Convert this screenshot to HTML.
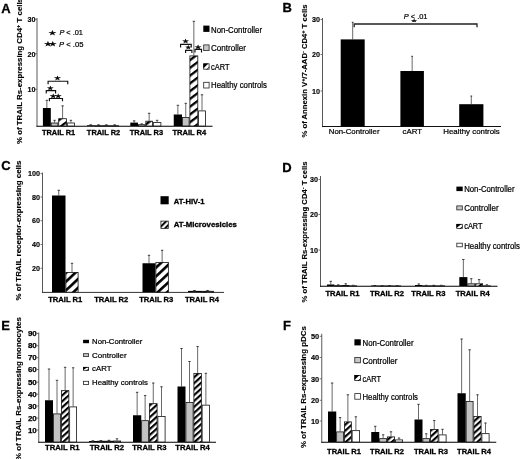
<!DOCTYPE html>
<html lang="en"><head><meta charset="utf-8"><title>Figure</title>
<style>html,body{margin:0;padding:0;background:#fff;}svg{display:block;filter:blur(0.3px);}text{font-family:'Liberation Sans', Arial, Helvetica, sans-serif;fill:#000;stroke:#000;stroke-width:0.22px;}text[font-weight=bold]{stroke-width:0.3px;}text.t{stroke-width:0.14px;}</style>
</head><body>
<svg width="520" height="459" viewBox="0 0 520 459">
<defs>
<pattern id="h1" patternUnits="userSpaceOnUse" width="20" height="6.2" patternTransform="rotate(-37)"><rect x="0" y="0" width="20" height="6.2" fill="#fff"/><rect x="0" y="0" width="20" height="2.3" fill="#000"/></pattern>
<pattern id="h3" patternUnits="userSpaceOnUse" width="20" height="6.4" patternTransform="rotate(-43)"><rect x="0" y="0" width="20" height="6.4" fill="#fff"/><rect x="0" y="0" width="20" height="2.6" fill="#000"/></pattern>
<pattern id="h2" patternUnits="userSpaceOnUse" width="20" height="4.4" patternTransform="rotate(-42)"><rect x="0" y="0" width="20" height="4.4" fill="#fff"/><rect x="0" y="0" width="20" height="2.15" fill="#000"/></pattern>
<pattern id="hl" patternUnits="userSpaceOnUse" width="20" height="4.2" patternTransform="rotate(-45)"><rect x="0" y="0" width="20" height="4.2" fill="#fff"/><rect x="0" y="0" width="20" height="2.0" fill="#000"/></pattern>
</defs>
<rect width="520" height="459" fill="#fff"/>
<text x="1.2" y="12.8" font-size="13" font-weight="bold">A</text>
<text x="22.4" y="71" font-size="7.8" font-weight="bold" text-anchor="middle" textLength="146" lengthAdjust="spacingAndGlyphs" transform="rotate(-90 22.4 71)" class="t">% of TRAIL Rs-expressing CD4<tspan font-size="5.5" dy="-2">+</tspan><tspan dy="2"> T cells</tspan></text>
<line x1="37" y1="18" x2="37" y2="126.8" stroke="#505050" stroke-width="0.95"/>
<line x1="36.5" y1="126.2" x2="212.5" y2="126.2" stroke="#000" stroke-width="1.1"/>
<text x="35.5" y="22" font-size="7.2" font-weight="bold" text-anchor="end" class="t">30</text>
<line x1="35.0" y1="19.3" x2="37" y2="19.3" stroke="#555" stroke-width="0.8"/>
<text x="35.5" y="56.5" font-size="7.2" font-weight="bold" text-anchor="end" class="t">20</text>
<line x1="35.0" y1="53.8" x2="37" y2="53.8" stroke="#555" stroke-width="0.8"/>
<text x="35.5" y="92" font-size="7.2" font-weight="bold" text-anchor="end" class="t">10</text>
<line x1="35.0" y1="89.3" x2="37" y2="89.3" stroke="#555" stroke-width="0.8"/>
<line x1="46.849999999999994" y1="108" x2="46.849999999999994" y2="100" stroke="#444" stroke-width="0.8"/>
<line x1="45.64999999999999" y1="100.3" x2="48.05" y2="100.3" stroke="#333" stroke-width="0.9"/>
<rect x="42.9" y="108" width="7.899999999999999" height="18" fill="#000"/>
<line x1="54.55" y1="122.6" x2="54.55" y2="120" stroke="#444" stroke-width="0.8"/>
<line x1="53.349999999999994" y1="120.3" x2="55.75" y2="120.3" stroke="#333" stroke-width="0.9"/>
<rect x="51.199999999999996" y="123.0" width="6.7" height="3.0000000000000058" fill="#c2c2c2" stroke="#111" stroke-width="0.8"/>
<line x1="62.6" y1="118.3" x2="62.6" y2="105.6" stroke="#444" stroke-width="0.8"/>
<line x1="61.4" y1="105.89999999999999" x2="63.800000000000004" y2="105.89999999999999" stroke="#333" stroke-width="0.9"/>
<rect x="58.699999999999996" y="118.7" width="7.800000000000009" height="7.3000000000000025" fill="url(#h1)" stroke="#111" stroke-width="0.8"/>
<line x1="70.9" y1="122.6" x2="70.9" y2="120" stroke="#444" stroke-width="0.8"/>
<line x1="69.7" y1="120.3" x2="72.10000000000001" y2="120.3" stroke="#333" stroke-width="0.9"/>
<rect x="67.30000000000001" y="123.0" width="7.2" height="3.0000000000000058" fill="#fff" stroke="#111" stroke-width="0.8"/>
<line x1="91.0" y1="125.3" x2="91.0" y2="125" stroke="#444" stroke-width="0.8"/>
<line x1="89.8" y1="125.3" x2="92.2" y2="125.3" stroke="#333" stroke-width="0.9"/>
<rect x="87" y="125.3" width="8" height="0.7000000000000028" fill="#000"/>
<line x1="99.0" y1="125.3" x2="99.0" y2="125" stroke="#444" stroke-width="0.8"/>
<line x1="97.8" y1="125.3" x2="100.2" y2="125.3" stroke="#333" stroke-width="0.9"/>
<rect x="95.4" y="125.7" width="7.2" height="0.3000000000000028" fill="#c2c2c2" stroke="#111" stroke-width="0.8"/>
<line x1="107.0" y1="125.3" x2="107.0" y2="125" stroke="#444" stroke-width="0.8"/>
<line x1="105.8" y1="125.3" x2="108.2" y2="125.3" stroke="#333" stroke-width="0.9"/>
<rect x="103.4" y="125.7" width="7.2" height="0.3000000000000028" fill="url(#h1)" stroke="#111" stroke-width="0.8"/>
<line x1="115.0" y1="125.3" x2="115.0" y2="125" stroke="#444" stroke-width="0.8"/>
<line x1="113.8" y1="125.3" x2="116.2" y2="125.3" stroke="#333" stroke-width="0.9"/>
<rect x="111.4" y="125.7" width="7.2" height="0.3000000000000028" fill="#fff" stroke="#111" stroke-width="0.8"/>
<line x1="134.15" y1="122.6" x2="134.15" y2="120.6" stroke="#444" stroke-width="0.8"/>
<line x1="132.95000000000002" y1="120.89999999999999" x2="135.35" y2="120.89999999999999" stroke="#333" stroke-width="0.9"/>
<rect x="130.3" y="122.6" width="7.699999999999989" height="3.4000000000000057" fill="#000"/>
<line x1="141.7" y1="124.3" x2="141.7" y2="123.6" stroke="#444" stroke-width="0.8"/>
<line x1="140.5" y1="123.89999999999999" x2="142.89999999999998" y2="123.89999999999999" stroke="#333" stroke-width="0.9"/>
<rect x="138.4" y="124.7" width="6.600000000000006" height="1.300000000000003" fill="#c2c2c2" stroke="#111" stroke-width="0.8"/>
<line x1="149.15" y1="120.8" x2="149.15" y2="113" stroke="#444" stroke-width="0.8"/>
<line x1="147.95000000000002" y1="113.3" x2="150.35" y2="113.3" stroke="#333" stroke-width="0.9"/>
<rect x="145.8" y="121.2" width="6.7" height="4.8000000000000025" fill="url(#h1)" stroke="#111" stroke-width="0.8"/>
<line x1="157.10000000000002" y1="122.2" x2="157.10000000000002" y2="120" stroke="#444" stroke-width="0.8"/>
<line x1="155.90000000000003" y1="120.3" x2="158.3" y2="120.3" stroke="#333" stroke-width="0.9"/>
<rect x="153.3" y="122.60000000000001" width="7.600000000000006" height="3.3999999999999972" fill="#fff" stroke="#111" stroke-width="0.8"/>
<line x1="177.875" y1="114.5" x2="177.875" y2="105" stroke="#444" stroke-width="0.8"/>
<line x1="176.675" y1="105.3" x2="179.075" y2="105.3" stroke="#333" stroke-width="0.9"/>
<rect x="173.75" y="114.5" width="8.25" height="11.5" fill="#000"/>
<line x1="185.75" y1="117" x2="185.75" y2="103" stroke="#444" stroke-width="0.8"/>
<line x1="184.55" y1="103.3" x2="186.95" y2="103.3" stroke="#333" stroke-width="0.9"/>
<rect x="182.4" y="117.4" width="6.7" height="8.6" fill="#c2c2c2" stroke="#111" stroke-width="0.8"/>
<line x1="193.85" y1="55.5" x2="193.85" y2="21" stroke="#444" stroke-width="0.8"/>
<line x1="192.65" y1="21.3" x2="195.04999999999998" y2="21.3" stroke="#333" stroke-width="0.9"/>
<rect x="189.9" y="55.9" width="7.899999999999989" height="70.1" fill="url(#h1)" stroke="#111" stroke-width="0.8"/>
<line x1="202.0" y1="110.5" x2="202.0" y2="94.5" stroke="#444" stroke-width="0.8"/>
<line x1="200.8" y1="94.8" x2="203.2" y2="94.8" stroke="#333" stroke-width="0.9"/>
<rect x="198.6" y="110.9" width="6.800000000000023" height="15.1" fill="#fff" stroke="#111" stroke-width="0.8"/>
<rect x="89.4" y="124.4" width="2.4" height="1.1" fill="#2a2a2a"/>
<rect x="97.2" y="124.4" width="2.4" height="1.1" fill="#2a2a2a"/>
<rect x="105.0" y="124.4" width="2.4" height="1.1" fill="#2a2a2a"/>
<rect x="113.4" y="124.4" width="2.4" height="1.1" fill="#2a2a2a"/>
<text x="41.95" y="134.7" font-size="7.7" font-weight="bold" textLength="33.3" lengthAdjust="spacingAndGlyphs">TRAIL R1</text>
<text x="86.85" y="134.7" font-size="7.7" font-weight="bold" textLength="33.3" lengthAdjust="spacingAndGlyphs">TRAIL R2</text>
<text x="129.75" y="134.7" font-size="7.7" font-weight="bold" textLength="33.3" lengthAdjust="spacingAndGlyphs">TRAIL R3</text>
<text x="172.4" y="134.7" font-size="7.7" font-weight="bold" textLength="33.9" lengthAdjust="spacingAndGlyphs">TRAIL R4</text>
<text transform="translate(52.4 35.08) scale(1.38 1)" font-size="6.37" font-weight="bold" text-anchor="middle" style="font-family:DejaVu Sans,sans-serif">★</text>
<text x="59.4" y="35.3" font-size="8" textLength="23.6" lengthAdjust="spacingAndGlyphs"><tspan font-style="italic">P</tspan> &lt; .01</text>
<text transform="translate(47.9 45.88) scale(1.38 1)" font-size="6.37" font-weight="bold" text-anchor="middle" style="font-family:DejaVu Sans,sans-serif">★</text>
<text transform="translate(52.7 45.88) scale(1.38 1)" font-size="6.37" font-weight="bold" text-anchor="middle" style="font-family:DejaVu Sans,sans-serif">★</text>
<text x="59" y="46.9" font-size="8" textLength="24.5" lengthAdjust="spacingAndGlyphs"><tspan font-style="italic">P</tspan> &lt; .05</text>
<polyline points="48.1,84.25 48.1,81.25 67.75,81.25 67.75,84.25" fill="none" stroke="#111" stroke-width="1.15"/>
<text transform="translate(57.5 79.64) scale(1.38 1)" font-size="5.63" font-weight="bold" text-anchor="middle" style="font-family:DejaVu Sans,sans-serif">★</text>
<polyline points="46.25,93.6 46.25,90.6 55.6,90.6 55.6,93.6" fill="none" stroke="#111" stroke-width="1.15"/>
<text transform="translate(50.25 90.16) scale(1.38 1)" font-size="5.39" font-weight="bold" text-anchor="middle" style="font-family:DejaVu Sans,sans-serif">★</text>
<polyline points="49.4,101.3 49.4,98.5 62.5,98.5 62.5,101.3" fill="none" stroke="#111" stroke-width="1.15"/>
<text transform="translate(53.3 97.64) scale(1.38 1)" font-size="5.63" font-weight="bold" text-anchor="middle" style="font-family:DejaVu Sans,sans-serif">★</text>
<text transform="translate(58.1 97.64) scale(1.38 1)" font-size="5.63" font-weight="bold" text-anchor="middle" style="font-family:DejaVu Sans,sans-serif">★</text>
<polyline points="180.6,47.4 180.6,44.4 191.25,44.4 191.25,47.4" fill="none" stroke="#111" stroke-width="1.15"/>
<text transform="translate(185.6 43.26) scale(1.38 1)" font-size="5.39" font-weight="bold" text-anchor="middle" style="font-family:DejaVu Sans,sans-serif">★</text>
<polyline points="185.6,53.0 185.6,50.4 191.9,50.4 191.9,53.0" fill="none" stroke="#111" stroke-width="1.15"/>
<text transform="translate(188.3 48.8) scale(1.38 1)" font-size="4.9" font-weight="bold" text-anchor="middle" style="font-family:DejaVu Sans,sans-serif">★</text>
<polyline points="195,52.4 195,49.4 201.5,49.4 201.5,52.4" fill="none" stroke="#111" stroke-width="1.15"/>
<text transform="translate(198 48.56) scale(1.38 1)" font-size="5.39" font-weight="bold" text-anchor="middle" style="font-family:DejaVu Sans,sans-serif">★</text>
<rect x="203.3" y="25.6" width="6.2" height="6.3" fill="#000"/>
<text x="211" y="32.6" font-size="8.3" textLength="51" lengthAdjust="spacingAndGlyphs">Non-Controller</text>
<rect x="203.70000000000002" y="44.9" width="5.4" height="5.7" fill="#c8c8c8" stroke="#222" stroke-width="0.8"/>
<text x="211" y="51" font-size="8.3" textLength="35" lengthAdjust="spacingAndGlyphs">Controller</text>
<rect x="203.70000000000002" y="63.8" width="5.4" height="5.4" fill="#fff" stroke="#222" stroke-width="0.8"/>
<polygon points="203.3,63.4 208.38,63.4 203.3,68.48" fill="#000"/>
<line x1="206.71" y1="69.6" x2="209.5" y2="66.81" stroke="#000" stroke-width="0.8"/>
<text x="211" y="69.5" font-size="8.3" textLength="18.5" lengthAdjust="spacingAndGlyphs">cART</text>
<rect x="203.70000000000002" y="82.30000000000001" width="5.4" height="5.7" fill="#fff" stroke="#222" stroke-width="0.8"/>
<text x="211" y="88" font-size="8.3" textLength="56" lengthAdjust="spacingAndGlyphs">Healthy controls</text>
<text x="282.6" y="11.7" font-size="13" font-weight="bold">B</text>
<text x="306.6" y="71" font-size="7.8" font-weight="bold" text-anchor="middle" textLength="133" lengthAdjust="spacingAndGlyphs" transform="rotate(-90 306.6 71)" class="t">% of Annexin V<tspan font-size="5.5" dy="-2">+</tspan><tspan dy="2">/7-AAD</tspan><tspan font-size="5.5" dy="-2">-</tspan><tspan dy="2"> CD4</tspan><tspan font-size="5.5" dy="-2">+</tspan><tspan dy="2"> T cells</tspan></text>
<line x1="322.5" y1="18" x2="322.5" y2="127.1" stroke="#505050" stroke-width="0.95"/>
<line x1="322.0" y1="126.5" x2="501" y2="126.5" stroke="#111" stroke-width="1.0"/>
<text x="320" y="22.2" font-size="7.2" font-weight="bold" text-anchor="end" class="t">30</text>
<line x1="320.5" y1="19.5" x2="322.5" y2="19.5" stroke="#555" stroke-width="0.8"/>
<text x="320" y="57.2" font-size="7.2" font-weight="bold" text-anchor="end" class="t">20</text>
<line x1="320.5" y1="54.5" x2="322.5" y2="54.5" stroke="#555" stroke-width="0.8"/>
<text x="320" y="93.7" font-size="7.2" font-weight="bold" text-anchor="end" class="t">10</text>
<line x1="320.5" y1="91.0" x2="322.5" y2="91.0" stroke="#555" stroke-width="0.8"/>
<line x1="352.7" y1="39.4" x2="352.7" y2="22" stroke="#444" stroke-width="0.8"/>
<line x1="351.8" y1="22.3" x2="353.59999999999997" y2="22.3" stroke="#333" stroke-width="0.9"/>
<rect x="340.7" y="39.4" width="24.0" height="87.0" fill="#000"/>
<line x1="412.15" y1="71" x2="412.15" y2="56" stroke="#444" stroke-width="0.8"/>
<line x1="411.25" y1="56.3" x2="413.04999999999995" y2="56.3" stroke="#333" stroke-width="0.9"/>
<rect x="400.4" y="71" width="23.5" height="55.400000000000006" fill="#000"/>
<line x1="471.29999999999995" y1="104.2" x2="471.29999999999995" y2="95.8" stroke="#444" stroke-width="0.8"/>
<line x1="470.4" y1="96.1" x2="472.19999999999993" y2="96.1" stroke="#333" stroke-width="0.9"/>
<rect x="459.2" y="104.2" width="24.19999999999999" height="22.200000000000003" fill="#000"/>
<polyline points="354.2,27.2 354.2,24 477,24 477,27.2" fill="none" stroke="#222" stroke-width="1.3"/>
<text x="403.7" y="19" font-size="8" textLength="23.8" lengthAdjust="spacingAndGlyphs"><tspan font-style="italic">P</tspan> &lt; .01</text>
<text transform="translate(414.2 22.06) scale(1.38 0.7)" font-size="5.39" font-weight="bold" text-anchor="middle" style="font-family:DejaVu Sans,sans-serif">★</text>
<text x="328.75" y="134.2" font-size="7.8" textLength="50.75" lengthAdjust="spacingAndGlyphs">Non-Controller</text>
<text x="402.5" y="134.2" font-size="7.8" textLength="19.5" lengthAdjust="spacingAndGlyphs">cART</text>
<text x="443.3" y="134.2" font-size="7.8" textLength="56.5" lengthAdjust="spacingAndGlyphs">Healthy controls</text>
<text x="1.2" y="170.3" font-size="13" font-weight="bold">C</text>
<text x="20.8" y="230.6" font-size="7.8" font-weight="bold" text-anchor="middle" textLength="140" lengthAdjust="spacingAndGlyphs" transform="rotate(-90 20.8 230.6)" class="t">% of TRAIL receptor-expressing cells</text>
<line x1="42.5" y1="172.5" x2="42.5" y2="293.0" stroke="#505050" stroke-width="0.95"/>
<line x1="42.0" y1="292.4" x2="224" y2="292.4" stroke="#333" stroke-width="1.0"/>
<text x="40" y="176.4" font-size="7.2" font-weight="bold" text-anchor="end" class="t">100</text>
<line x1="40.5" y1="173.70000000000002" x2="42.5" y2="173.70000000000002" stroke="#555" stroke-width="0.8"/>
<text x="40" y="199.7" font-size="7.2" font-weight="bold" text-anchor="end" class="t">80</text>
<line x1="40.5" y1="197.0" x2="42.5" y2="197.0" stroke="#555" stroke-width="0.8"/>
<text x="40" y="223.4" font-size="7.2" font-weight="bold" text-anchor="end" class="t">60</text>
<line x1="40.5" y1="220.70000000000002" x2="42.5" y2="220.70000000000002" stroke="#555" stroke-width="0.8"/>
<text x="40" y="247.2" font-size="7.2" font-weight="bold" text-anchor="end" class="t">40</text>
<line x1="40.5" y1="244.5" x2="42.5" y2="244.5" stroke="#555" stroke-width="0.8"/>
<text x="40" y="271" font-size="7.2" font-weight="bold" text-anchor="end" class="t">20</text>
<line x1="40.5" y1="268.3" x2="42.5" y2="268.3" stroke="#555" stroke-width="0.8"/>
<line x1="58.75" y1="195.5" x2="58.75" y2="190" stroke="#444" stroke-width="0.8"/>
<line x1="57.55" y1="190.3" x2="59.95" y2="190.3" stroke="#333" stroke-width="0.9"/>
<rect x="52" y="195.5" width="13.5" height="96.69999999999999" fill="#000"/>
<line x1="72.0" y1="272" x2="72.0" y2="263" stroke="#444" stroke-width="0.8"/>
<line x1="70.8" y1="263.3" x2="73.2" y2="263.3" stroke="#333" stroke-width="0.9"/>
<rect x="65.9" y="272.4" width="12.2" height="19.79999999999999" fill="url(#h3)" stroke="#111" stroke-width="0.8"/>
<line x1="149.0" y1="263.25" x2="149.0" y2="255" stroke="#444" stroke-width="0.8"/>
<line x1="147.8" y1="255.3" x2="150.2" y2="255.3" stroke="#333" stroke-width="0.9"/>
<rect x="142.5" y="263.25" width="13.0" height="28.94999999999999" fill="#000"/>
<line x1="162.125" y1="262" x2="162.125" y2="250" stroke="#444" stroke-width="0.8"/>
<line x1="160.925" y1="250.3" x2="163.325" y2="250.3" stroke="#333" stroke-width="0.9"/>
<rect x="155.9" y="262.4" width="12.45" height="29.79999999999999" fill="url(#h3)" stroke="#111" stroke-width="0.8"/>
<line x1="194.5" y1="290.9" x2="194.5" y2="290.2" stroke="#444" stroke-width="0.8"/>
<line x1="193.3" y1="290.5" x2="195.7" y2="290.5" stroke="#333" stroke-width="0.9"/>
<rect x="188" y="290.9" width="13" height="1.3000000000000114" fill="#000"/>
<line x1="207.5" y1="290.9" x2="207.5" y2="290.2" stroke="#444" stroke-width="0.8"/>
<line x1="206.3" y1="290.5" x2="208.7" y2="290.5" stroke="#333" stroke-width="0.9"/>
<rect x="201.4" y="291.29999999999995" width="12.2" height="0.9000000000000113" fill="url(#h3)" stroke="#111" stroke-width="0.8"/>
<rect x="192.7" y="290.7" width="3.2" height="1.0" fill="#2a2a2a"/>
<rect x="206.4" y="290.7" width="3.2" height="1.0" fill="#2a2a2a"/>
<text x="48.15" y="302.3" font-size="7.5" font-weight="bold" textLength="34.2" lengthAdjust="spacingAndGlyphs">TRAIL R1</text>
<text x="94.15" y="302.3" font-size="7.5" font-weight="bold" textLength="34.2" lengthAdjust="spacingAndGlyphs">TRAIL R2</text>
<text x="139.15" y="302.3" font-size="7.5" font-weight="bold" textLength="34.2" lengthAdjust="spacingAndGlyphs">TRAIL R3</text>
<text x="184.9" y="302.3" font-size="7.5" font-weight="bold" textLength="34.2" lengthAdjust="spacingAndGlyphs">TRAIL R4</text>
<rect x="160.5" y="196.2" width="8.2" height="8.1" fill="#000"/>
<text x="173.75" y="203.7" font-size="7.7" font-weight="bold" textLength="30.7" lengthAdjust="spacingAndGlyphs">AT-HIV-1</text>
<rect x="160.9" y="221.1" width="7.3999999999999995" height="7.3" fill="url(#hl)" stroke="#222" stroke-width="0.8"/>
<text x="173.75" y="227.3" font-size="7.7" font-weight="bold" textLength="63.2" lengthAdjust="spacingAndGlyphs">AT-Microvesicles</text>
<text x="282.2" y="171.7" font-size="13" font-weight="bold">D</text>
<text x="306.5" y="232" font-size="7.8" font-weight="bold" text-anchor="middle" textLength="141" lengthAdjust="spacingAndGlyphs" transform="rotate(-90 306.5 232)" class="t">% of TRAIL Rs-expressing CD4<tspan font-size="5.5" dy="-2">-</tspan><tspan dy="2"> T cells</tspan></text>
<line x1="320.5" y1="176" x2="320.5" y2="286.8" stroke="#505050" stroke-width="0.95"/>
<line x1="320.0" y1="286.2" x2="497.5" y2="286.2" stroke="#000" stroke-width="1.1"/>
<text x="318" y="182.2" font-size="7.2" font-weight="bold" text-anchor="end" class="t">30</text>
<line x1="318.5" y1="179.5" x2="320.5" y2="179.5" stroke="#555" stroke-width="0.8"/>
<text x="318" y="217.2" font-size="7.2" font-weight="bold" text-anchor="end" class="t">20</text>
<line x1="318.5" y1="214.5" x2="320.5" y2="214.5" stroke="#555" stroke-width="0.8"/>
<text x="318" y="252.7" font-size="7.2" font-weight="bold" text-anchor="end" class="t">10</text>
<line x1="318.5" y1="250.0" x2="320.5" y2="250.0" stroke="#555" stroke-width="0.8"/>
<line x1="330.75" y1="284.5" x2="330.75" y2="281" stroke="#444" stroke-width="0.8"/>
<line x1="329.55" y1="281.3" x2="331.95" y2="281.3" stroke="#333" stroke-width="0.9"/>
<rect x="327" y="284.5" width="7.5" height="1.5" fill="#000"/>
<line x1="338.25" y1="285.2" x2="338.25" y2="284.5" stroke="#444" stroke-width="0.8"/>
<line x1="337.05" y1="284.8" x2="339.45" y2="284.8" stroke="#333" stroke-width="0.9"/>
<rect x="334.9" y="285.59999999999997" width="6.7" height="0.40000000000001135" fill="#c2c2c2" stroke="#111" stroke-width="0.8"/>
<line x1="345.75" y1="285" x2="345.75" y2="283.5" stroke="#444" stroke-width="0.8"/>
<line x1="344.55" y1="283.8" x2="346.95" y2="283.8" stroke="#333" stroke-width="0.9"/>
<rect x="342.4" y="285.4" width="6.7" height="0.6" fill="url(#h2)" stroke="#111" stroke-width="0.8"/>
<line x1="353.25" y1="285.4" x2="353.25" y2="285" stroke="#444" stroke-width="0.8"/>
<line x1="352.05" y1="285.3" x2="354.45" y2="285.3" stroke="#333" stroke-width="0.9"/>
<rect x="349.9" y="285.79999999999995" width="6.7" height="0.20000000000002272" fill="#fff" stroke="#111" stroke-width="0.8"/>
<line x1="374.75" y1="285.5" x2="374.75" y2="285.2" stroke="#444" stroke-width="0.8"/>
<line x1="373.55" y1="285.5" x2="375.95" y2="285.5" stroke="#333" stroke-width="0.9"/>
<rect x="371" y="285.5" width="7.5" height="0.5" fill="#000"/>
<line x1="382.25" y1="285.5" x2="382.25" y2="285.2" stroke="#444" stroke-width="0.8"/>
<line x1="381.05" y1="285.5" x2="383.45" y2="285.5" stroke="#333" stroke-width="0.9"/>
<rect x="378.9" y="285.9" width="6.7" height="0.09999999999999998" fill="#c2c2c2" stroke="#111" stroke-width="0.8"/>
<line x1="389.75" y1="285.5" x2="389.75" y2="285.2" stroke="#444" stroke-width="0.8"/>
<line x1="388.55" y1="285.5" x2="390.95" y2="285.5" stroke="#333" stroke-width="0.9"/>
<rect x="386.4" y="285.9" width="6.7" height="0.09999999999999998" fill="url(#h2)" stroke="#111" stroke-width="0.8"/>
<line x1="397.25" y1="285.5" x2="397.25" y2="285.2" stroke="#444" stroke-width="0.8"/>
<line x1="396.05" y1="285.5" x2="398.45" y2="285.5" stroke="#333" stroke-width="0.9"/>
<rect x="393.9" y="285.9" width="6.7" height="0.09999999999999998" fill="#fff" stroke="#111" stroke-width="0.8"/>
<line x1="418.75" y1="285" x2="418.75" y2="283.7" stroke="#444" stroke-width="0.8"/>
<line x1="417.55" y1="284.0" x2="419.95" y2="284.0" stroke="#333" stroke-width="0.9"/>
<rect x="415" y="285" width="7.5" height="1" fill="#000"/>
<line x1="426.25" y1="285.4" x2="426.25" y2="285" stroke="#444" stroke-width="0.8"/>
<line x1="425.05" y1="285.3" x2="427.45" y2="285.3" stroke="#333" stroke-width="0.9"/>
<rect x="422.9" y="285.79999999999995" width="6.7" height="0.20000000000002272" fill="#c2c2c2" stroke="#111" stroke-width="0.8"/>
<line x1="433.75" y1="285.4" x2="433.75" y2="285" stroke="#444" stroke-width="0.8"/>
<line x1="432.55" y1="285.3" x2="434.95" y2="285.3" stroke="#333" stroke-width="0.9"/>
<rect x="430.4" y="285.79999999999995" width="6.7" height="0.20000000000002272" fill="url(#h2)" stroke="#111" stroke-width="0.8"/>
<line x1="441.25" y1="285.4" x2="441.25" y2="285" stroke="#444" stroke-width="0.8"/>
<line x1="440.05" y1="285.3" x2="442.45" y2="285.3" stroke="#333" stroke-width="0.9"/>
<rect x="437.9" y="285.79999999999995" width="6.7" height="0.20000000000002272" fill="#fff" stroke="#111" stroke-width="0.8"/>
<line x1="463.35" y1="277.1" x2="463.35" y2="259.2" stroke="#444" stroke-width="0.8"/>
<line x1="462.15000000000003" y1="259.5" x2="464.55" y2="259.5" stroke="#333" stroke-width="0.9"/>
<rect x="459.3" y="277.1" width="8.099999999999966" height="8.899999999999977" fill="#000"/>
<line x1="471.29999999999995" y1="283.4" x2="471.29999999999995" y2="278.4" stroke="#444" stroke-width="0.8"/>
<line x1="470.09999999999997" y1="278.7" x2="472.49999999999994" y2="278.7" stroke="#333" stroke-width="0.9"/>
<rect x="467.79999999999995" y="283.79999999999995" width="7.0000000000000115" height="2.200000000000023" fill="#c2c2c2" stroke="#111" stroke-width="0.8"/>
<line x1="479.1" y1="283.4" x2="479.1" y2="279.3" stroke="#444" stroke-width="0.8"/>
<line x1="477.90000000000003" y1="279.6" x2="480.3" y2="279.6" stroke="#333" stroke-width="0.9"/>
<rect x="475.59999999999997" y="283.79999999999995" width="7.0000000000000115" height="2.200000000000023" fill="url(#h2)" stroke="#111" stroke-width="0.8"/>
<line x1="486.9" y1="285.4" x2="486.9" y2="284.5" stroke="#444" stroke-width="0.8"/>
<line x1="485.7" y1="284.8" x2="488.09999999999997" y2="284.8" stroke="#333" stroke-width="0.9"/>
<rect x="483.4" y="285.79999999999995" width="7.0000000000000115" height="0.20000000000002272" fill="#fff" stroke="#111" stroke-width="0.8"/>
<text x="325.4" y="295.6" font-size="7.5" font-weight="bold" textLength="34.2" lengthAdjust="spacingAndGlyphs">TRAIL R1</text>
<text x="369.9" y="295.6" font-size="7.5" font-weight="bold" textLength="34.2" lengthAdjust="spacingAndGlyphs">TRAIL R2</text>
<text x="411.29999999999995" y="295.6" font-size="7.5" font-weight="bold" textLength="34.2" lengthAdjust="spacingAndGlyphs">TRAIL R3</text>
<text x="455.65" y="295.6" font-size="7.5" font-weight="bold" textLength="34.2" lengthAdjust="spacingAndGlyphs">TRAIL R4</text>
<rect x="456.4" y="186.6" width="6.3" height="4.5" fill="#000"/>
<text x="464.2" y="192.3" font-size="8.3" textLength="50.3" lengthAdjust="spacingAndGlyphs">Non-Controller</text>
<rect x="456.79999999999995" y="205.9" width="5.5" height="4.0" fill="#c8c8c8" stroke="#222" stroke-width="0.8"/>
<text x="464.2" y="211.3" font-size="8.3" textLength="34.5" lengthAdjust="spacingAndGlyphs">Controller</text>
<rect x="456.79999999999995" y="224.3" width="5.5" height="4.1000000000000005" fill="#fff" stroke="#222" stroke-width="0.8"/>
<polygon points="456.4,223.9 461.57,223.9 456.4,227.92" fill="#000"/>
<line x1="459.86" y1="228.8" x2="462.7" y2="226.59" stroke="#000" stroke-width="0.8"/>
<text x="464.2" y="229.3" font-size="8.3" textLength="18.3" lengthAdjust="spacingAndGlyphs">cART</text>
<rect x="456.79999999999995" y="243.20000000000002" width="5.5" height="3.6000000000000005" fill="#fff" stroke="#222" stroke-width="0.8"/>
<text x="464.2" y="248.5" font-size="8.3" textLength="55.8" lengthAdjust="spacingAndGlyphs">Healthy controls</text>
<text x="1.3" y="329.5" font-size="13" font-weight="bold">E</text>
<text x="21" y="388.6" font-size="7.8" font-weight="bold" text-anchor="middle" textLength="143" lengthAdjust="spacingAndGlyphs" transform="rotate(-90 21 388.6)" class="t">% of TRAIL Rs-expressing monocytes</text>
<line x1="38.75" y1="332.5" x2="38.75" y2="442.8" stroke="#505050" stroke-width="0.95"/>
<line x1="38.25" y1="442.2" x2="216" y2="442.2" stroke="#000" stroke-width="1.1"/>
<text x="36.8" y="336.2" font-size="8" font-weight="bold" text-anchor="end" class="t" style="stroke-width:0.25px">90</text>
<line x1="36.75" y1="333.5" x2="38.75" y2="333.5" stroke="#555" stroke-width="0.8"/>
<text x="36.8" y="348.4" font-size="8" font-weight="bold" text-anchor="end" class="t" style="stroke-width:0.25px">80</text>
<line x1="36.75" y1="345.7" x2="38.75" y2="345.7" stroke="#555" stroke-width="0.8"/>
<text x="36.8" y="360.4" font-size="8" font-weight="bold" text-anchor="end" class="t" style="stroke-width:0.25px">70</text>
<line x1="36.75" y1="357.7" x2="38.75" y2="357.7" stroke="#555" stroke-width="0.8"/>
<text x="36.8" y="372.2" font-size="8" font-weight="bold" text-anchor="end" class="t" style="stroke-width:0.25px">60</text>
<line x1="36.75" y1="369.5" x2="38.75" y2="369.5" stroke="#555" stroke-width="0.8"/>
<text x="36.8" y="384.9" font-size="8" font-weight="bold" text-anchor="end" class="t" style="stroke-width:0.25px">50</text>
<line x1="36.75" y1="382.2" x2="38.75" y2="382.2" stroke="#555" stroke-width="0.8"/>
<text x="36.8" y="396.9" font-size="8" font-weight="bold" text-anchor="end" class="t" style="stroke-width:0.25px">40</text>
<line x1="36.75" y1="394.2" x2="38.75" y2="394.2" stroke="#555" stroke-width="0.8"/>
<text x="36.8" y="408.7" font-size="8" font-weight="bold" text-anchor="end" class="t" style="stroke-width:0.25px">30</text>
<line x1="36.75" y1="406.0" x2="38.75" y2="406.0" stroke="#555" stroke-width="0.8"/>
<text x="36.8" y="420.7" font-size="8" font-weight="bold" text-anchor="end" class="t" style="stroke-width:0.25px">20</text>
<line x1="36.75" y1="418.0" x2="38.75" y2="418.0" stroke="#555" stroke-width="0.8"/>
<text x="36.8" y="432.7" font-size="8" font-weight="bold" text-anchor="end" class="t" style="stroke-width:0.25px">10</text>
<line x1="36.75" y1="430.0" x2="38.75" y2="430.0" stroke="#555" stroke-width="0.8"/>
<line x1="49.0" y1="400.25" x2="49.0" y2="368.75" stroke="#444" stroke-width="0.8"/>
<line x1="47.8" y1="369.05" x2="50.2" y2="369.05" stroke="#333" stroke-width="0.9"/>
<rect x="45" y="400.25" width="8" height="41.75" fill="#000"/>
<line x1="57.0" y1="413.5" x2="57.0" y2="380" stroke="#444" stroke-width="0.8"/>
<line x1="55.8" y1="380.3" x2="58.2" y2="380.3" stroke="#333" stroke-width="0.9"/>
<rect x="53.4" y="413.9" width="7.2" height="28.1" fill="#c2c2c2" stroke="#111" stroke-width="0.8"/>
<line x1="65.125" y1="390.25" x2="65.125" y2="367" stroke="#444" stroke-width="0.8"/>
<line x1="63.925" y1="367.3" x2="66.325" y2="367.3" stroke="#333" stroke-width="0.9"/>
<rect x="61.4" y="390.65" width="7.45" height="51.35" fill="url(#h2)" stroke="#111" stroke-width="0.8"/>
<line x1="73.125" y1="406.5" x2="73.125" y2="367.5" stroke="#444" stroke-width="0.8"/>
<line x1="71.925" y1="367.8" x2="74.325" y2="367.8" stroke="#333" stroke-width="0.9"/>
<rect x="69.65" y="406.9" width="6.95" height="35.1" fill="#fff" stroke="#111" stroke-width="0.8"/>
<line x1="93.0" y1="441" x2="93.0" y2="440.6" stroke="#444" stroke-width="0.8"/>
<line x1="91.8" y1="440.90000000000003" x2="94.2" y2="440.90000000000003" stroke="#333" stroke-width="0.9"/>
<rect x="89" y="441" width="8" height="1" fill="#000"/>
<line x1="101.0" y1="440.8" x2="101.0" y2="440.3" stroke="#444" stroke-width="0.8"/>
<line x1="99.8" y1="440.6" x2="102.2" y2="440.6" stroke="#333" stroke-width="0.9"/>
<rect x="97.4" y="441.2" width="7.2" height="0.7999999999999886" fill="#c2c2c2" stroke="#111" stroke-width="0.8"/>
<line x1="109.0" y1="440.8" x2="109.0" y2="440" stroke="#444" stroke-width="0.8"/>
<line x1="107.8" y1="440.3" x2="110.2" y2="440.3" stroke="#333" stroke-width="0.9"/>
<rect x="105.4" y="441.2" width="7.2" height="0.7999999999999886" fill="url(#h2)" stroke="#111" stroke-width="0.8"/>
<line x1="117.0" y1="440.6" x2="117.0" y2="438.5" stroke="#444" stroke-width="0.8"/>
<line x1="115.8" y1="438.8" x2="118.2" y2="438.8" stroke="#333" stroke-width="0.9"/>
<rect x="113.4" y="441.0" width="7.2" height="0.9999999999999772" fill="#fff" stroke="#111" stroke-width="0.8"/>
<line x1="137.125" y1="415.25" x2="137.125" y2="392" stroke="#444" stroke-width="0.8"/>
<line x1="135.925" y1="392.3" x2="138.325" y2="392.3" stroke="#333" stroke-width="0.9"/>
<rect x="133" y="415.25" width="8.25" height="26.75" fill="#000"/>
<line x1="145.125" y1="420.25" x2="145.125" y2="395.25" stroke="#444" stroke-width="0.8"/>
<line x1="143.925" y1="395.55" x2="146.325" y2="395.55" stroke="#333" stroke-width="0.9"/>
<rect x="141.65" y="420.65" width="6.95" height="21.35" fill="#c2c2c2" stroke="#111" stroke-width="0.8"/>
<line x1="153.25" y1="403.25" x2="153.25" y2="382.75" stroke="#444" stroke-width="0.8"/>
<line x1="152.05" y1="383.05" x2="154.45" y2="383.05" stroke="#333" stroke-width="0.9"/>
<rect x="149.4" y="403.65" width="7.7" height="38.35" fill="url(#h2)" stroke="#111" stroke-width="0.8"/>
<line x1="161.5" y1="416" x2="161.5" y2="386.5" stroke="#444" stroke-width="0.8"/>
<line x1="160.3" y1="386.8" x2="162.7" y2="386.8" stroke="#333" stroke-width="0.9"/>
<rect x="157.9" y="416.4" width="7.2" height="25.6" fill="#fff" stroke="#111" stroke-width="0.8"/>
<line x1="181.5" y1="386.5" x2="181.5" y2="348.2" stroke="#444" stroke-width="0.8"/>
<line x1="180.3" y1="348.5" x2="182.7" y2="348.5" stroke="#333" stroke-width="0.9"/>
<rect x="177.5" y="386.5" width="8.0" height="55.5" fill="#000"/>
<line x1="189.5" y1="402" x2="189.5" y2="361.2" stroke="#444" stroke-width="0.8"/>
<line x1="188.3" y1="361.5" x2="190.7" y2="361.5" stroke="#333" stroke-width="0.9"/>
<rect x="185.9" y="402.4" width="7.2" height="39.6" fill="#c2c2c2" stroke="#111" stroke-width="0.8"/>
<line x1="197.625" y1="373" x2="197.625" y2="346.25" stroke="#444" stroke-width="0.8"/>
<line x1="196.425" y1="346.55" x2="198.825" y2="346.55" stroke="#333" stroke-width="0.9"/>
<rect x="193.9" y="373.4" width="7.45" height="68.6" fill="url(#h2)" stroke="#111" stroke-width="0.8"/>
<line x1="205.875" y1="404.75" x2="205.875" y2="373" stroke="#444" stroke-width="0.8"/>
<line x1="204.675" y1="373.3" x2="207.075" y2="373.3" stroke="#333" stroke-width="0.9"/>
<rect x="202.15" y="405.15" width="7.45" height="36.85" fill="#fff" stroke="#111" stroke-width="0.8"/>
<rect x="91.2" y="440.7" width="3" height="1.0" fill="#2a2a2a"/>
<rect x="99.3" y="440.7" width="3" height="1.0" fill="#2a2a2a"/>
<rect x="107.3" y="440.7" width="3" height="1.0" fill="#2a2a2a"/>
<text x="45.0" y="450" font-size="7.9" font-weight="bold" textLength="34.5" lengthAdjust="spacingAndGlyphs">TRAIL R1</text>
<text x="89.65" y="450" font-size="7.9" font-weight="bold" textLength="34.5" lengthAdjust="spacingAndGlyphs">TRAIL R2</text>
<text x="132.15" y="450" font-size="7.9" font-weight="bold" textLength="34.5" lengthAdjust="spacingAndGlyphs">TRAIL R3</text>
<text x="175.25" y="450" font-size="7.9" font-weight="bold" textLength="34.5" lengthAdjust="spacingAndGlyphs">TRAIL R4</text>
<rect x="83.1" y="339.8" width="5.9" height="3.4" fill="#000"/>
<text x="92.1" y="344.4" font-size="7.7" textLength="50.3" lengthAdjust="spacingAndGlyphs">Non-Controller</text>
<rect x="83.5" y="353.7" width="5.1000000000000005" height="2.8" fill="#c8c8c8" stroke="#222" stroke-width="0.8"/>
<text x="92.1" y="358.2" font-size="7.7" textLength="34.5" lengthAdjust="spacingAndGlyphs">Controller</text>
<rect x="83.5" y="367.29999999999995" width="5.1000000000000005" height="3.0" fill="#fff" stroke="#222" stroke-width="0.8"/>
<polygon points="83.1,366.9 87.94,366.9 83.1,370.02" fill="#000"/>
<line x1="86.34" y1="370.7" x2="89.0" y2="368.99" stroke="#000" stroke-width="0.8"/>
<text x="92.1" y="371.3" font-size="7.7" textLength="19.3" lengthAdjust="spacingAndGlyphs">cART</text>
<rect x="83.5" y="381.29999999999995" width="5.1000000000000005" height="3.0999999999999996" fill="#fff" stroke="#222" stroke-width="0.8"/>
<text x="92.1" y="384.8" font-size="7.7" textLength="55.8" lengthAdjust="spacingAndGlyphs">Healthy controls</text>
<text x="283.1" y="329.9" font-size="13" font-weight="bold">F</text>
<text x="306.3" y="387" font-size="7.8" font-weight="bold" text-anchor="middle" textLength="122" lengthAdjust="spacingAndGlyphs" transform="rotate(-90 306.3 387)" class="t">% of TRAIL Rs-expressing pDCs</text>
<line x1="321.75" y1="333.75" x2="321.75" y2="442.8" stroke="#505050" stroke-width="0.95"/>
<line x1="321.25" y1="442.2" x2="496.25" y2="442.2" stroke="#000" stroke-width="1.1"/>
<text x="319.2" y="339" font-size="7.4" font-weight="bold" text-anchor="end" class="t">50</text>
<line x1="319.75" y1="336.3" x2="321.75" y2="336.3" stroke="#555" stroke-width="0.8"/>
<text x="319.2" y="360.2" font-size="7.4" font-weight="bold" text-anchor="end" class="t">40</text>
<line x1="319.75" y1="357.5" x2="321.75" y2="357.5" stroke="#555" stroke-width="0.8"/>
<text x="319.2" y="381.5" font-size="7.4" font-weight="bold" text-anchor="end" class="t">30</text>
<line x1="319.75" y1="378.8" x2="321.75" y2="378.8" stroke="#555" stroke-width="0.8"/>
<text x="319.2" y="403" font-size="7.4" font-weight="bold" text-anchor="end" class="t">20</text>
<line x1="319.75" y1="400.3" x2="321.75" y2="400.3" stroke="#555" stroke-width="0.8"/>
<text x="319.2" y="423.7" font-size="7.4" font-weight="bold" text-anchor="end" class="t">10</text>
<line x1="319.75" y1="421.0" x2="321.75" y2="421.0" stroke="#555" stroke-width="0.8"/>
<line x1="332.125" y1="411.5" x2="332.125" y2="382.75" stroke="#444" stroke-width="0.8"/>
<line x1="330.925" y1="383.05" x2="333.325" y2="383.05" stroke="#333" stroke-width="0.9"/>
<rect x="328" y="411.5" width="8.25" height="30.5" fill="#000"/>
<line x1="340.125" y1="431.5" x2="340.125" y2="417.25" stroke="#444" stroke-width="0.8"/>
<line x1="338.925" y1="417.55" x2="341.325" y2="417.55" stroke="#333" stroke-width="0.9"/>
<rect x="336.65" y="431.9" width="6.95" height="10.1" fill="#c2c2c2" stroke="#111" stroke-width="0.8"/>
<line x1="347.875" y1="421.5" x2="347.875" y2="394.5" stroke="#444" stroke-width="0.8"/>
<line x1="346.675" y1="394.8" x2="349.075" y2="394.8" stroke="#333" stroke-width="0.9"/>
<rect x="344.4" y="421.9" width="6.95" height="20.1" fill="url(#h2)" stroke="#111" stroke-width="0.8"/>
<line x1="355.875" y1="430.25" x2="355.875" y2="416.5" stroke="#444" stroke-width="0.8"/>
<line x1="354.675" y1="416.8" x2="357.075" y2="416.8" stroke="#333" stroke-width="0.9"/>
<rect x="352.15" y="430.65" width="7.45" height="11.35" fill="#fff" stroke="#111" stroke-width="0.8"/>
<line x1="375.25" y1="432" x2="375.25" y2="426" stroke="#444" stroke-width="0.8"/>
<line x1="374.05" y1="426.3" x2="376.45" y2="426.3" stroke="#333" stroke-width="0.9"/>
<rect x="371.25" y="432" width="8.0" height="10" fill="#000"/>
<line x1="383.125" y1="438.25" x2="383.125" y2="434.5" stroke="#444" stroke-width="0.8"/>
<line x1="381.925" y1="434.8" x2="384.325" y2="434.8" stroke="#333" stroke-width="0.9"/>
<rect x="379.65" y="438.65" width="6.95" height="3.35" fill="#c2c2c2" stroke="#111" stroke-width="0.8"/>
<line x1="391.0" y1="436.5" x2="391.0" y2="431.5" stroke="#444" stroke-width="0.8"/>
<line x1="389.8" y1="431.8" x2="392.2" y2="431.8" stroke="#333" stroke-width="0.9"/>
<rect x="387.4" y="436.9" width="7.2" height="5.1" fill="url(#h2)" stroke="#111" stroke-width="0.8"/>
<line x1="399.0" y1="439.5" x2="399.0" y2="437.75" stroke="#444" stroke-width="0.8"/>
<line x1="397.8" y1="438.05" x2="400.2" y2="438.05" stroke="#333" stroke-width="0.9"/>
<rect x="395.4" y="439.9" width="7.2" height="2.1" fill="#fff" stroke="#111" stroke-width="0.8"/>
<line x1="418.5" y1="419.5" x2="418.5" y2="404" stroke="#444" stroke-width="0.8"/>
<line x1="417.3" y1="404.3" x2="419.7" y2="404.3" stroke="#333" stroke-width="0.9"/>
<rect x="414.5" y="419.5" width="8.0" height="22.5" fill="#000"/>
<line x1="426.25" y1="438.25" x2="426.25" y2="433.5" stroke="#444" stroke-width="0.8"/>
<line x1="425.05" y1="433.8" x2="427.45" y2="433.8" stroke="#333" stroke-width="0.9"/>
<rect x="422.9" y="438.65" width="6.7" height="3.35" fill="#c2c2c2" stroke="#111" stroke-width="0.8"/>
<line x1="434.25" y1="429" x2="434.25" y2="420.25" stroke="#444" stroke-width="0.8"/>
<line x1="433.05" y1="420.55" x2="435.45" y2="420.55" stroke="#333" stroke-width="0.9"/>
<rect x="430.4" y="429.4" width="7.7" height="12.6" fill="url(#h2)" stroke="#111" stroke-width="0.8"/>
<line x1="442.5" y1="434.5" x2="442.5" y2="429" stroke="#444" stroke-width="0.8"/>
<line x1="441.3" y1="429.3" x2="443.7" y2="429.3" stroke="#333" stroke-width="0.9"/>
<rect x="438.9" y="434.9" width="7.2" height="7.1" fill="#fff" stroke="#111" stroke-width="0.8"/>
<line x1="461.625" y1="393.25" x2="461.625" y2="338.75" stroke="#444" stroke-width="0.8"/>
<line x1="460.425" y1="339.05" x2="462.825" y2="339.05" stroke="#333" stroke-width="0.9"/>
<rect x="457.5" y="393.25" width="8.25" height="48.75" fill="#000"/>
<line x1="469.625" y1="401" x2="469.625" y2="349.5" stroke="#444" stroke-width="0.8"/>
<line x1="468.425" y1="349.8" x2="470.825" y2="349.8" stroke="#333" stroke-width="0.9"/>
<rect x="466.15" y="401.4" width="6.95" height="40.6" fill="#c2c2c2" stroke="#111" stroke-width="0.8"/>
<line x1="477.5" y1="416" x2="477.5" y2="394.5" stroke="#444" stroke-width="0.8"/>
<line x1="476.3" y1="394.8" x2="478.7" y2="394.8" stroke="#333" stroke-width="0.9"/>
<rect x="473.9" y="416.4" width="7.2" height="25.6" fill="url(#h2)" stroke="#111" stroke-width="0.8"/>
<line x1="485.5" y1="433.25" x2="485.5" y2="422.75" stroke="#444" stroke-width="0.8"/>
<line x1="484.3" y1="423.05" x2="486.7" y2="423.05" stroke="#333" stroke-width="0.9"/>
<rect x="481.9" y="433.65" width="7.2" height="8.35" fill="#fff" stroke="#111" stroke-width="0.8"/>
<text x="327.0" y="453.8" font-size="7.5" font-weight="bold" textLength="34" lengthAdjust="spacingAndGlyphs">TRAIL R1</text>
<text x="370.0" y="453.8" font-size="7.5" font-weight="bold" textLength="34" lengthAdjust="spacingAndGlyphs">TRAIL R2</text>
<text x="413.9" y="453.8" font-size="7.5" font-weight="bold" textLength="34" lengthAdjust="spacingAndGlyphs">TRAIL R3</text>
<text x="457.0" y="453.8" font-size="7.5" font-weight="bold" textLength="34" lengthAdjust="spacingAndGlyphs">TRAIL R4</text>
<rect x="354.4" y="339.3" width="6.4" height="6.1" fill="#000"/>
<text x="362.5" y="346.3" font-size="8.3" textLength="51" lengthAdjust="spacingAndGlyphs">Non-Controller</text>
<rect x="354.79999999999995" y="357.4" width="5.6000000000000005" height="5.4" fill="#c8c8c8" stroke="#222" stroke-width="0.8"/>
<text x="362.5" y="364" font-size="8.3" textLength="35" lengthAdjust="spacingAndGlyphs">Controller</text>
<rect x="354.79999999999995" y="375.4" width="5.6000000000000005" height="5.2" fill="#fff" stroke="#222" stroke-width="0.8"/>
<polygon points="354.4,375 359.65,375 354.4,379.92" fill="#000"/>
<line x1="357.92" y1="381" x2="360.8" y2="378.3" stroke="#000" stroke-width="0.8"/>
<text x="362.5" y="381.5" font-size="8.3" textLength="18.5" lengthAdjust="spacingAndGlyphs">cART</text>
<rect x="354.79999999999995" y="393.59999999999997" width="5.6000000000000005" height="5.6000000000000005" fill="#fff" stroke="#222" stroke-width="0.8"/>
<text x="362.5" y="399.9" font-size="8.3" textLength="55.5" lengthAdjust="spacingAndGlyphs">Healthy controls</text>
</svg>
</body></html>
